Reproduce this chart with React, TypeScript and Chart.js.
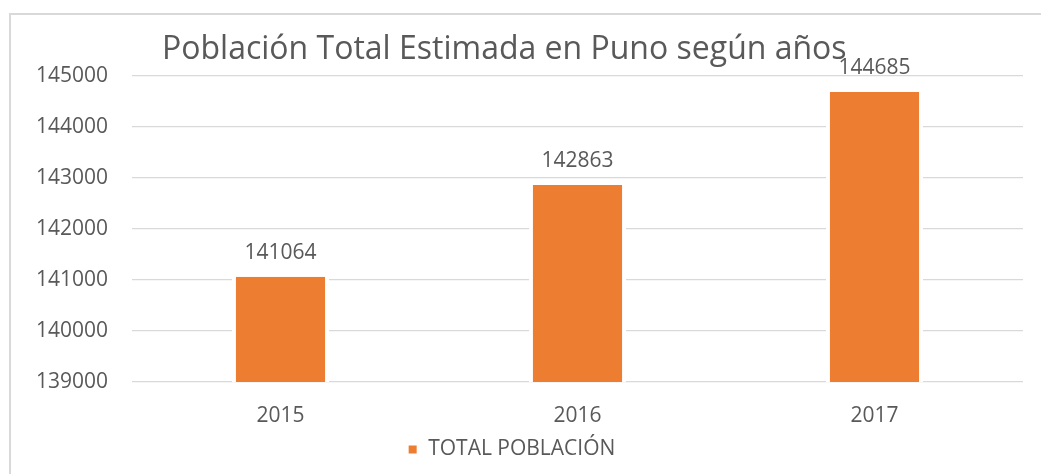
import React, { useEffect, useRef } from "react";
import { Chart, registerables } from "chart.js";

Chart.register(...registerables);

const chartTitle = "Población Total Estimada en Puno según años";
const seriesName = "TOTAL POBLACIÓN";
const years = ["2015", "2016", "2017"];
const population = [141064, 142863, 144685];
const yMin = 139000;
const yMax = 145000;
const yStep = 1000;

const FONT = "'Open Sans', 'Noto Sans', sans-serif";
const TEXT = "#595959";
const GRID = "#D9D9D9";
const BAR = "#ED7D31";

const titlePlugin = {
  id: "customTitle",
  afterDraw(chart: any) {
    const { ctx, chartArea } = chart;
    ctx.save();
    ctx.font = `32px ${FONT}`;
    ctx.fillStyle = TEXT;
    ctx.textAlign = "left";
    ctx.textBaseline = "alphabetic";
    ctx.fillText(chartTitle, chartArea.left + 30, 59);
    ctx.restore();
  },
};

const valueLabels = {
  id: "valueLabels",
  afterDatasetsDraw(chart: any) {
    const { ctx } = chart;
    const meta = chart.getDatasetMeta(0);
    const data = chart.data.datasets[0].data;
    ctx.save();
    ctx.font = `21px ${FONT}`;
    ctx.fillStyle = TEXT;
    ctx.textAlign = "center";
    ctx.textBaseline = "alphabetic";
    meta.data.forEach((bar: any, i: number) => {
      ctx.fillText(String(data[i]), bar.x, bar.y - 18);
    });
    ctx.restore();
  },
};

export default function App() {
  const ref = useRef<HTMLCanvasElement>(null);

  useEffect(() => {
    if (!ref.current) return;
    const chart = new Chart(ref.current, {
      type: "bar",
      data: {
        labels: years,
        datasets: [
          {
            label: seriesName,
            data: population,
            backgroundColor: BAR,
            borderColor: "#FFFFFF",
            borderWidth: { left: 4, right: 4, top: 0, bottom: 0 },
            borderSkipped: false,
            barPercentage: 0.327,
            categoryPercentage: 1,
          },
        ],
      },
      options: {
        responsive: false,
        animation: false,
        layout: { padding: { left: 0, right: 18, top: 76, bottom: 4 } },
        plugins: {
          title: { display: false },
          tooltip: { enabled: false },
          legend: {
            display: true,
            position: "bottom",
            labels: {
              boxWidth: 10,
              boxHeight: 10,
              color: TEXT,
              font: { family: FONT, size: 21 },
              padding: 6,
            },
          },
        },
        scales: {
          x: {
            afterFit(scale: any) {
              scale.height = 51;
            },
            grid: { display: false, drawTicks: false },
            border: { display: false },
            ticks: {
              color: TEXT,
              font: { family: FONT, size: 21 },
              padding: 21,
            },
          },
          y: {
            min: yMin,
            max: yMax,
            afterFit(scale: any) {
              scale.width = 132;
            },
            grid: { color: GRID, lineWidth: 1.3, drawTicks: false },
            border: { display: false },
            ticks: {
              stepSize: yStep,
              color: TEXT,
              font: { family: FONT, size: 21 },
              padding: 24,
              callback: (v: any) => String(v),
            },
          },
        },
      },
      plugins: [titlePlugin, valueLabels],
    });
    return () => chart.destroy();
  }, []);

  return (
    <div
      style={{
        position: "fixed",
        left: 0,
        top: 0,
        width: 1041,
        height: 474,
        overflow: "hidden",
        background: "#FFFFFF",
      }}
    >
      <div
        style={{
          position: "absolute",
          left: 9,
          top: 13,
          width: 1100,
          height: 500,
          borderLeft: `2px solid ${GRID}`,
          borderTop: `2px solid ${GRID}`,
          boxSizing: "border-box",
        }}
      />
      <canvas
        ref={ref}
        width={1041}
        height={474}
        style={{ position: "absolute", left: 0, top: 0 }}
      />
    </div>
  );
}
